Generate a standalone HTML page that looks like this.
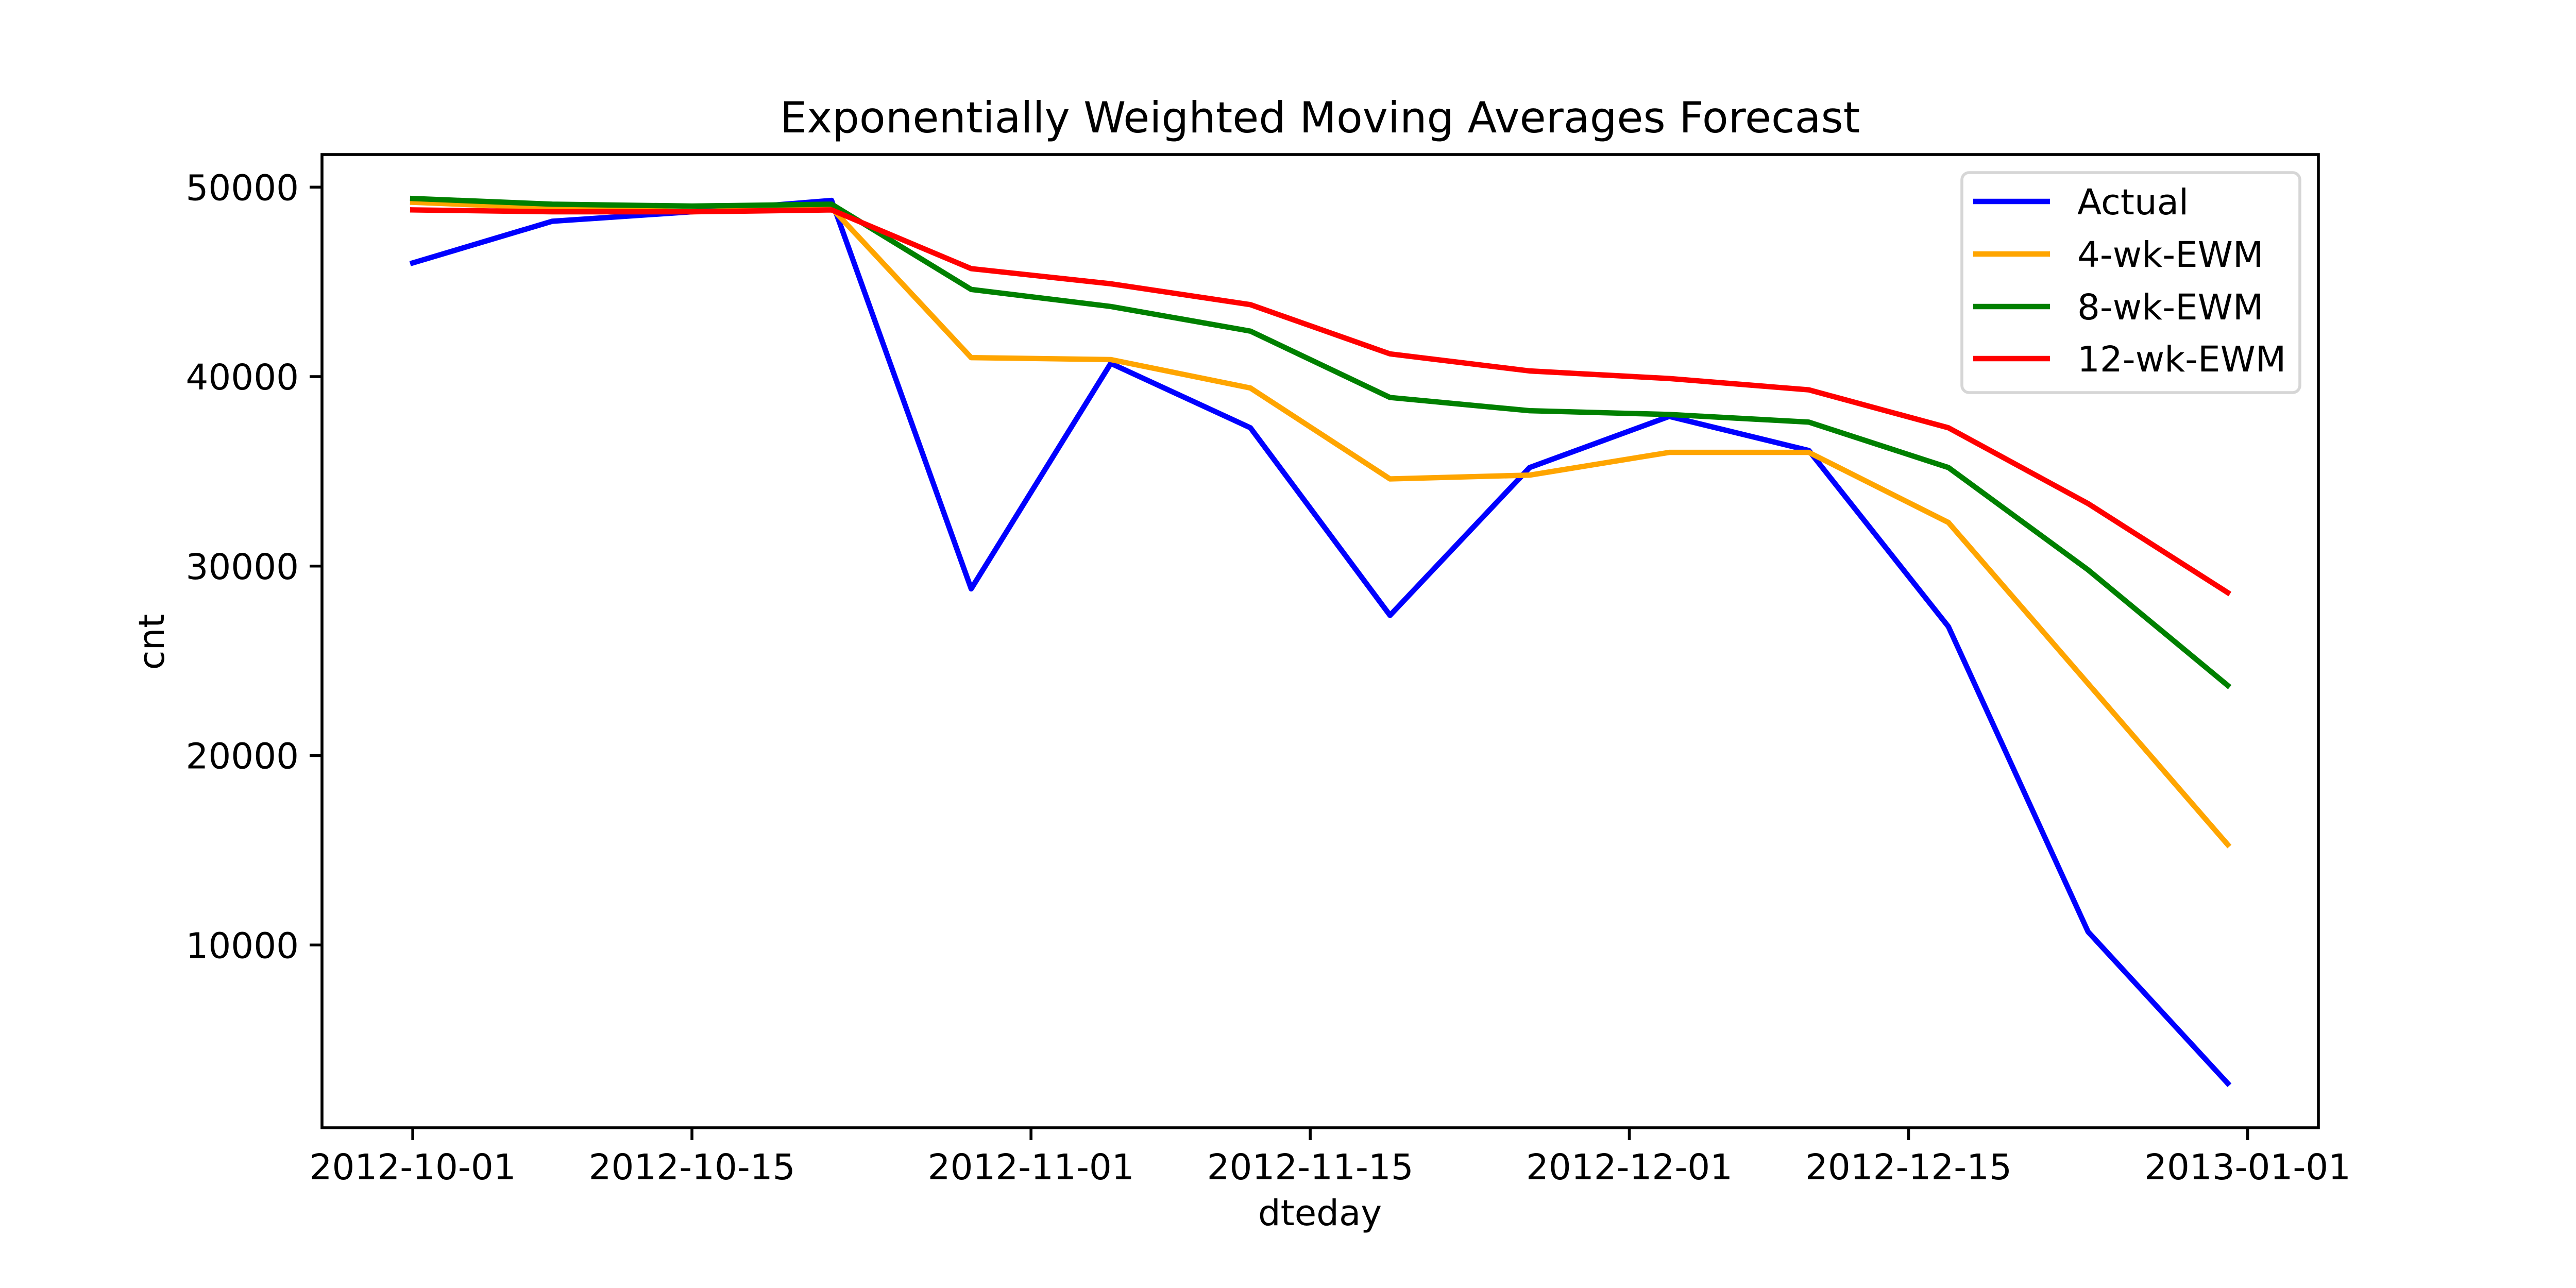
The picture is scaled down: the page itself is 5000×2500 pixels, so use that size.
<!DOCTYPE html>
<html><head><meta charset="utf-8"><style>
html,body{margin:0;padding:0;background:#fff;}
svg{display:block;font-family:"DejaVu Sans","Liberation Sans",sans-serif;}
</style></head><body>
<svg id="chart" xmlns="http://www.w3.org/2000/svg" width="5000" height="2500" viewBox="0 0 5000 2500">
<rect x="0" y="0" width="5000" height="2500" fill="#fff"/>
<text x="2562" y="257" font-size="83" text-anchor="middle">Exponentially Weighted Moving Averages Forecast</text>
<g id="plot"></g>
<rect x="625" y="300" width="3875" height="1889" fill="none" stroke="#000" stroke-width="5.6"/>
<text x="2562" y="2378" font-size="69" text-anchor="middle">dteday</text>
<text x="0" y="0" font-size="69" text-anchor="middle" transform="translate(318,1246) rotate(-90)">cnt</text>
<g>
<rect x="3808" y="335" width="656" height="427" rx="14" fill="#fff" fill-opacity="0.8" stroke="#d6d6d6" stroke-width="5.6"/>
<g id="legend-items"></g>
</g>
</svg>
<script>
const dates = ["2012-10-01","2012-10-08","2012-10-15","2012-10-22","2012-10-29","2012-11-05","2012-11-12","2012-11-19","2012-11-26","2012-12-03","2012-12-10","2012-12-17","2012-12-24","2012-12-31"];
const actual = [46000,48200,48700,49300,28800,40700,37300,27400,35200,37900,36100,26800,10700,2700];
const ewm4 = [49200,48900,48700,48900,41000,40900,39400,34600,34800,36000,36000,32300,23800,15300];
const ewm8 = [49400,49100,49000,49100,44600,43700,42400,38900,38200,38000,37600,35200,29800,23700];
const ewm12 = [48800,48700,48700,48800,45700,44900,43800,41200,40300,39900,39300,37300,33300,28600];
const seriesNames = ["Actual","4-wk-EWM","8-wk-EWM","12-wk-EWM"];
const xTickLabels = ["2012-10-01","2012-10-15","2012-11-01","2012-11-15","2012-12-01","2012-12-15","2013-01-01"];
const yTickValues = [10000,20000,30000,40000,50000];

const NS = "http://www.w3.org/2000/svg";
const base = Date.UTC(2012,9,1);
function dayOf(s){const p=s.split("-");return (Date.UTC(+p[0],+p[1]-1,+p[2])-base)/86400000;}
const xMin=-4.55, xMax=95.55, L=625, R=4500, T=300, B=2189;
function xs(d){return L+(d-xMin)/(xMax-xMin)*(R-L);}
const yPerUnit=367.75/10000, y0=2202;
function ys(v){return y0-v*yPerUnit;}
function mk(tag,attrs){const e=document.createElementNS(NS,tag);for(const k in attrs)e.setAttribute(k,attrs[k]);return e;}
const plot=document.getElementById("plot");

xTickLabels.forEach(function(lab){
  const x=xs(dayOf(lab));
  const t=mk("line",{x1:x,x2:x,y1:B,y2:B+24,stroke:"#000","stroke-width":5.6});
  
  
  plot.appendChild(t);
  const tx=mk("text",{x:x,y:B+100,"font-size":69,"text-anchor":"middle"});
  tx.textContent=lab;
  
  
  plot.appendChild(tx);
});
yTickValues.forEach(function(v){
  const y=ys(v);
  const t=mk("line",{x1:L-24,x2:L,y1:y,y2:y,stroke:"#000","stroke-width":5.6});
  
  
  plot.appendChild(t);
  const tx=mk("text",{x:L-45,y:y+25,"font-size":69,"text-anchor":"end"});
  tx.textContent=String(v);
  
  
  plot.appendChild(tx);
});

const allSeries=[actual,ewm4,ewm8,ewm12];
const colors=["#0000ff","#ffa500","#008000","#ff0000"];
const lineNames=["actual-line","ewm-4wk-line","ewm-8wk-line","ewm-12wk-line"];
allSeries.forEach(function(s,i){
  const pts=s.map(function(v,j){return xs(dayOf(dates[j])).toFixed(1)+","+ys(v).toFixed(1);}).join(" ");
  const pl=mk("polyline",{points:pts,fill:"none",stroke:colors[i],"stroke-width":10.4,"stroke-linejoin":"round","stroke-linecap":"square"});
  
  
  plot.appendChild(pl);
});

const leg=document.getElementById("legend-items");
const legendY=[391,493,595,696];
seriesNames.forEach(function(n,i){
  const ln=mk("line",{x1:3830,x2:3979,y1:legendY[i],y2:legendY[i],stroke:colors[i],"stroke-width":10.4});
  
  
  leg.appendChild(ln);
  const tx=mk("text",{x:4032,y:legendY[i]+25,"font-size":69});
  tx.textContent=n;
  
  
  leg.appendChild(tx);
});
</script>
</body></html>
